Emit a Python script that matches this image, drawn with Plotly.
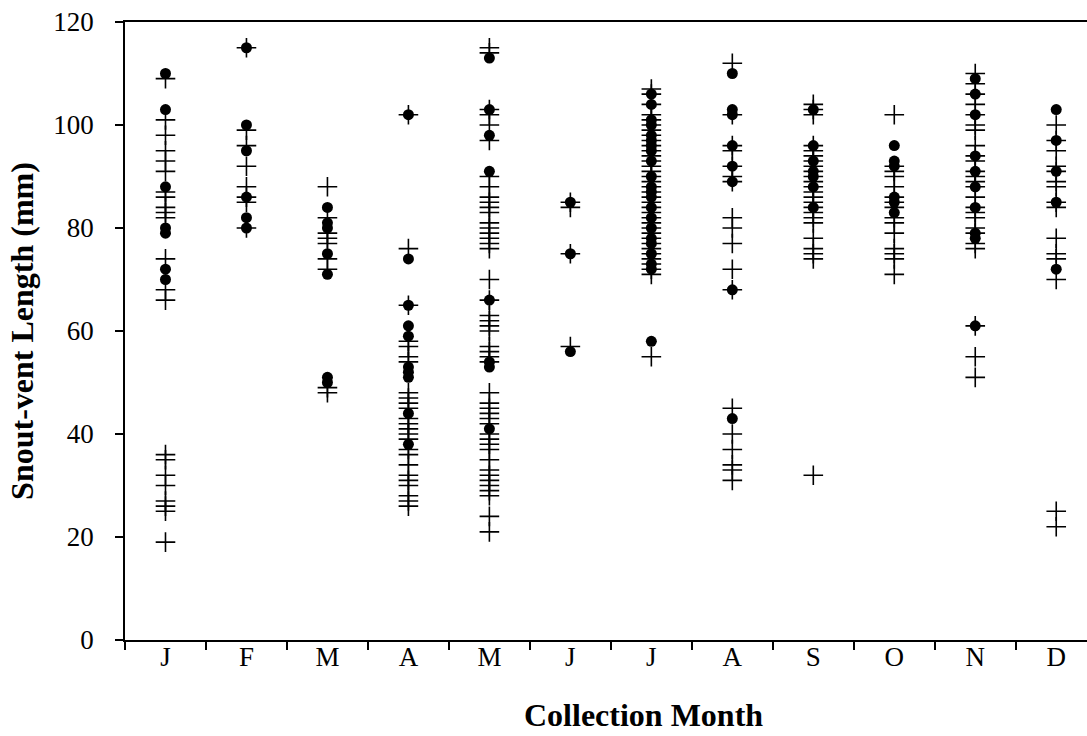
import plotly.graph_objects as go

months = ["Jan", "Feb", "Mar", "Apr", "May", "Jun", "Jul", "Aug", "Sep", "Oct", "Nov", "Dec"]
month_labels = ["J", "F", "M", "A", "M", "J", "J", "A", "S", "O", "N", "D"]

circle_vals = {
    "Jan": [110, 103, 88, 80, 79, 72, 70],
    "Feb": [115, 100, 95, 86, 82, 80],
    "Mar": [84, 81, 80, 75, 71, 51, 50],
    "Apr": [102, 74, 65, 61, 59, 53, 52, 51, 44, 38],
    "May": [113, 103, 98, 91, 66, 54, 53, 41],
    "Jun": [85, 75, 56],
    "Jul": [106, 104, 101, 100, 98, 97, 96, 95, 93, 90, 88, 87, 86, 84, 82, 80, 78, 77, 75, 73, 72, 58],
    "Aug": [110, 103, 102, 96, 92, 89, 68, 43],
    "Sep": [103, 96, 93, 91, 90, 88, 84],
    "Oct": [96, 93, 92, 86, 85, 83],
    "Nov": [109, 106, 102, 94, 91, 88, 84, 79, 78, 61],
    "Dec": [103, 97, 91, 85, 72],
}

plus_vals = {
    "Jan": [109, 101, 98, 95, 93, 91, 87, 86, 84, 83, 82, 74, 68, 66, 36, 35, 32, 30, 27, 26, 25, 19],
    "Feb": [115, 99, 96, 92, 88, 86, 85, 80],
    "Mar": [88, 82, 79, 78, 77, 74, 72, 49, 48],
    "Apr": [102, 76, 65, 58, 57, 55, 54, 48, 47, 46, 45, 43, 42, 41, 40, 39, 37, 36, 34, 32, 31, 30, 28, 27, 26],
    "May": [115, 114, 103, 102, 100, 97, 90, 88, 86, 85, 84, 83, 81, 80, 79, 78, 77, 76, 70, 66, 63, 62, 61,
            60, 57, 56, 55, 54, 48, 46, 45, 44, 43, 42, 40, 39, 38, 37, 35, 33, 32, 31, 30, 29, 28, 24, 21],
    "Jun": [85, 84, 75, 57],
    "Jul": [107, 106, 104, 102, 101, 100, 99, 98, 97, 96, 95, 94, 93, 92, 91, 90, 89, 88, 87, 86, 85, 84,
            83, 82, 81, 80, 79, 78, 77, 76, 75, 74, 73, 72, 71, 55],
    "Aug": [112, 102, 96, 95, 92, 90, 89, 82, 80, 77, 72, 68, 45, 40, 37, 34, 33, 31],
    "Sep": [104, 103, 102, 96, 95, 94, 93, 92, 91, 90, 89, 88, 87, 86, 85, 84, 83, 82, 81, 78, 76, 75, 74, 32],
    "Oct": [102, 92, 91, 90, 88, 86, 85, 84, 82, 81, 79, 76, 75, 74, 71],
    "Nov": [110, 108, 106, 104, 102, 100, 99, 96, 94, 93, 91, 90, 89, 88, 86, 84, 83, 82, 80, 79, 77, 76,
            61, 55, 51],
    "Dec": [100, 97, 95, 92, 91, 89, 88, 85, 84, 78, 75, 74, 70, 25, 22],
}

y_ticks = [0, 20, 40, 60, 80, 100, 120]

cx, cy = [], []
for m in months:
    for v in circle_vals[m]:
        cx.append(m)
        cy.append(v)
px, py = [], []
for m in months:
    for v in plus_vals[m]:
        px.append(m)
        py.append(v)

FONT = "Liberation Serif, Times New Roman, serif"

fig = go.Figure()
fig.add_trace(go.Scatter(x=cx, y=cy, mode="markers",
                         marker=dict(symbol="circle", size=11, color="black"),
                         showlegend=False))
fig.add_trace(go.Scatter(x=px, y=py, mode="markers",
                         marker=dict(symbol="cross-thin", size=14,
                                     line=dict(color="black", width=1.6)),
                         showlegend=False))

fig.update_layout(
    width=1087, height=736,
    margin=dict(l=125, r=0, t=22, b=96),
    plot_bgcolor="white", paper_bgcolor="white",
    font=dict(family=FONT, color="black", size=27),
    xaxis=dict(
        type="category",
        categoryorder="array", categoryarray=months,
        tickmode="array", tickvals=months, ticktext=month_labels,
        tickson="boundaries",
        range=[-0.5, 11.38],
        ticks="outside", ticklen=8, tickwidth=1.5, tickcolor="black",
        showline=True, linecolor="black", linewidth=1.5, mirror=True,
        showgrid=False, zeroline=False,
        tickfont=dict(size=27, family=FONT),
        ticklabelstandoff=-8,
    ),
    yaxis=dict(
        range=[0, 120],
        tickmode="array", tickvals=y_ticks,
        ticks="outside", ticklen=8, tickwidth=1.5, tickcolor="black",
        showline=True, linecolor="black", linewidth=1.5,
        showgrid=False, zeroline=False,
        tickfont=dict(size=27, family=FONT),
        ticklabelstandoff=16,
        title=dict(text="<b>Snout-vent Length (mm)</b>", font=dict(size=32, family=FONT), standoff=10),
    ),
    annotations=[dict(
        text="<b>Collection Month</b>", xref="paper", yref="paper",
        x=0.5385, y=-0.121, xanchor="center", yanchor="middle",
        showarrow=False, font=dict(size=32, family=FONT, color="black"),
    )],
)

fig.write_html("out.html")
